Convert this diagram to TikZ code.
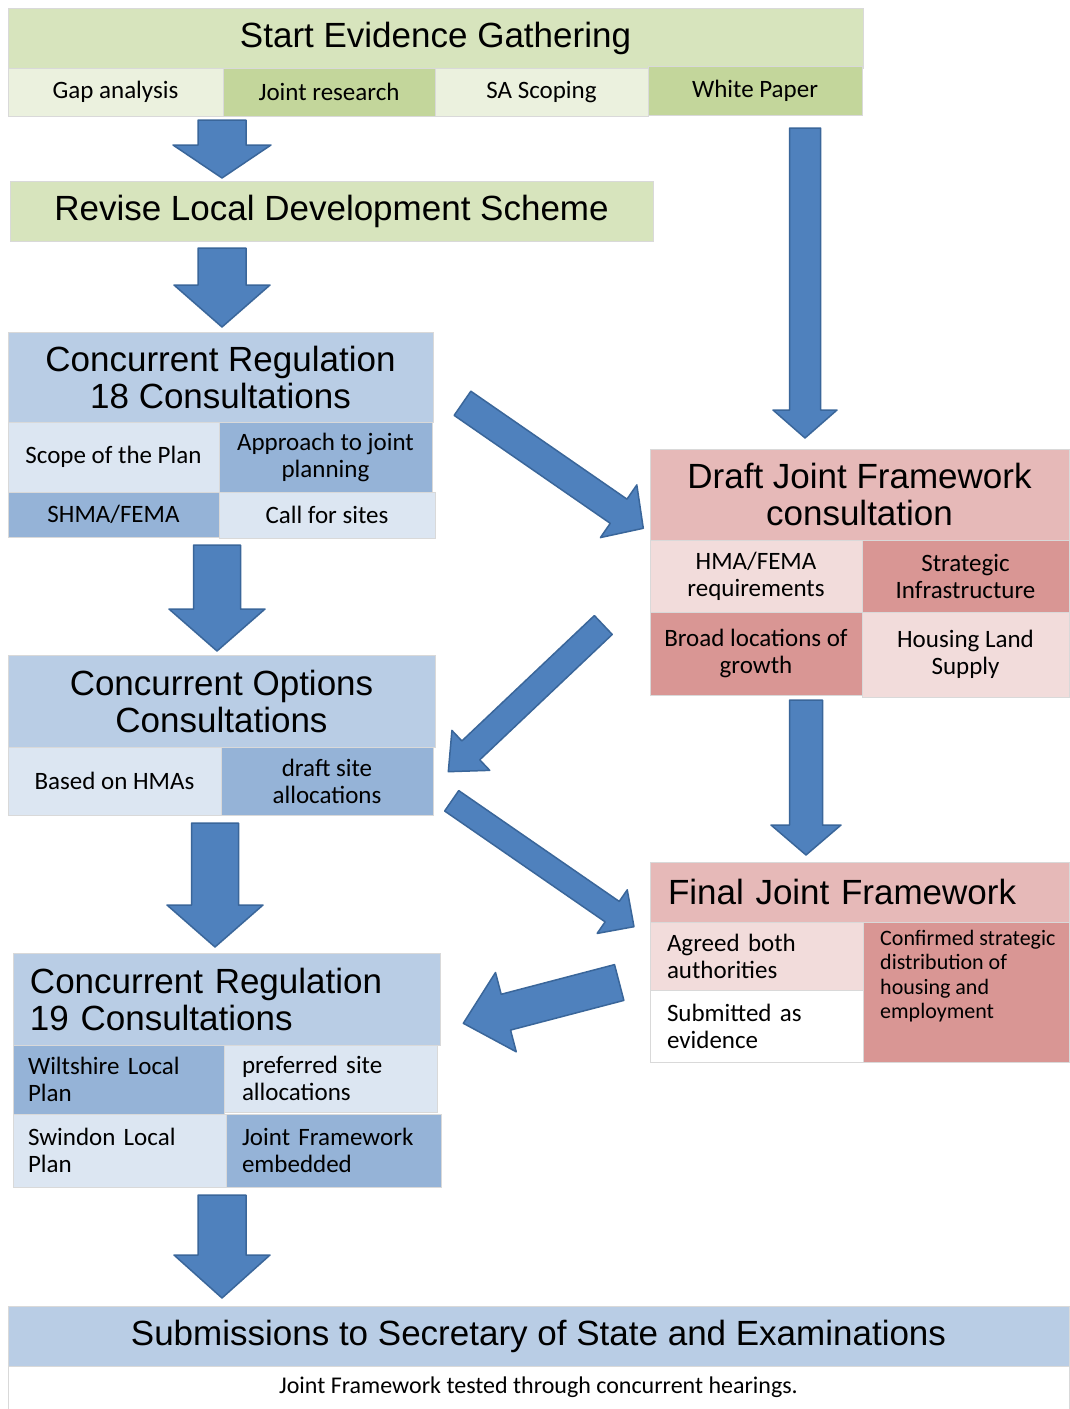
\documentclass[tikz,border=0pt]{standalone}
\usepackage{fontspec}
\setmainfont{Liberation Sans}
\newfontfamily\cellfont{Carlito}
\usetikzlibrary{calc}
\definecolor{gH}{HTML}{D7E4BD}
\definecolor{gL}{HTML}{EBF1DE}
\definecolor{gM}{HTML}{C3D69B}
\definecolor{bH}{HTML}{B9CDE5}
\definecolor{bL}{HTML}{DCE6F2}
\definecolor{bM}{HTML}{95B3D7}
\definecolor{rH}{HTML}{E6B9B8}
\definecolor{rL}{HTML}{F2DCDB}
\definecolor{rM}{HTML}{D99694}
\definecolor{arrF}{HTML}{4F81BD}
\definecolor{arrD}{HTML}{3A669A}
\definecolor{edgeC}{HTML}{D9D9D9}
\tikzset{
  boxbase/.style={draw=edgeC, line width=1pt, inner sep=0pt, outer sep=0pt},
  hdr/.style={boxbase, font=\fontsize{35}{37}\selectfont, align=center},
  cel/.style={boxbase, font=\cellfont\fontsize{25}{27}\selectfont, align=center},
  conftext/.style={inner sep=0pt, font=\cellfont\fontsize{22}{24.3}\selectfont, align=left},
  notefont/.style={font=\cellfont\fontsize{24}{26}\selectfont},
  barrow/.style={fill=arrF, draw=arrD, line width=1.5pt, line join=round}
}
\newcommand\mkbox[7]{%
  \pgfmathsetmacro\MKw{#5-#3}\pgfmathsetmacro\MKh{#6-#4}%
  \pgfmathsetmacro\MKx{(#3+#5)/2}\pgfmathsetmacro\MKy{(#4+#6)/2}%
  \node[#2, minimum width=\MKw pt, minimum height=\MKh pt] (#1) at (\MKx,\MKy) {#7};}
\newcommand\mkboxL[8]{%
  \pgfmathsetmacro\MKw{#5-#3}\pgfmathsetmacro\MKh{#6-#4}%
  \pgfmathsetmacro\MKt{#5-#3-2*#8}%
  \pgfmathsetmacro\MKx{(#3+#5)/2}\pgfmathsetmacro\MKy{(#4+#6)/2}%
  \node[#2, align=left, inner xsep=#8pt, text width=\MKt pt, minimum width=\MKw pt, minimum height=\MKh pt] (#1) at (\MKx,\MKy) {#7};}
% block arrow: from, to, shaft half width, head half width, head length
\newcommand\blockarrow[5]{%
  \path let \p1=(#1), \p2=(#2), \n1={atan2(\y2-\y1,\x2-\x1)}, \n2={veclen(\x2-\x1,\y2-\y1)} in
    \pgfextra{\xdef\BAang{\n1}\xdef\BAlen{\n2}\xdef\BAx{\x1}\xdef\BAy{\y1}};
  \begin{scope}[shift={(\BAx,\BAy)}, rotate=\BAang]
    \filldraw[barrow] (0pt,-#3pt) -- ({\BAlen-#5pt},-#3pt) -- ({\BAlen-#5pt},-#4pt)
      -- (\BAlen,0pt) -- ({\BAlen-#5pt},#4pt) -- ({\BAlen-#5pt},#3pt) -- (0pt,#3pt) -- cycle;
  \end{scope}}
\begin{document}
\begin{tikzpicture}[x=1pt,y=-1pt]
\useasboundingbox (0,0) rectangle (1069,1409);
\fill[white] (0,0) rectangle (1069,1409);

% Evidence gathering
\mkbox{seg}{hdr, fill=gH}{8}{8}{863}{68}{Start Evidence Gathering}
\mkbox{gap}{cel, fill=gL}{8}{68}{223}{116}{Gap analysis}
\mkbox{jres}{cel, fill=gM}{223}{68}{435}{116}{Joint research}
\mkbox{sas}{cel, fill=gL}{435}{68}{648}{116}{SA Scoping}
\mkbox{wp}{cel, fill=gM}{648}{66}{862}{115}{White Paper}
\mkbox{rlds}{hdr, fill=gH}{10}{181}{653}{241}{Revise Local Development Scheme}

% Regulation 18
\mkbox{r18}{hdr, fill=bH}{8}{332}{433}{422}{Concurrent Regulation\\18 Consultations}
\mkbox{scope}{cel, fill=bL}{8}{422}{219}{492}{Scope of the Plan}
\mkbox{appr}{cel, fill=bM}{219}{422}{432}{492}{Approach to joint\\planning}
\mkbox{shma}{cel, fill=bM}{8}{492}{219}{537}{SHMA/FEMA}
\mkbox{call}{cel, fill=bL}{219}{492}{435}{538}{Call for sites}

% Draft Joint Framework
\mkbox{djf}{hdr, fill=rH}{650}{449}{1069}{540}{Draft Joint Framework\\consultation}
\mkbox{hma}{cel, fill=rL}{650}{540}{862}{612}{HMA/FEMA\\requirements}
\mkbox{strat}{cel, fill=rM}{862}{540}{1069}{612}{Strategic\\Infrastructure}
\mkbox{broad}{cel, fill=rM}{650}{612}{862}{695}{Broad locations of\\growth}
\mkbox{hls}{cel, fill=rL}{862}{612}{1069}{697}{Housing Land\\Supply}

% Options
\mkbox{opt}{hdr, fill=bH}{8}{655}{435}{747}{Concurrent Options\\Consultations}
\mkbox{based}{cel, fill=bL}{8}{747}{221}{815}{Based on HMAs}
\mkbox{dsa}{cel, fill=bM}{221}{747}{433}{815}{draft site\\allocations}

% Final Joint Framework
\mkboxL{fjf}{hdr, fill=rH}{650}{862}{1069}{922}{Final Joint Framework}{18}
\mkboxL{agr}{cel, fill=rL}{650}{922}{863}{990}{Agreed both\\authorities}{17}
\mkboxL{subm}{cel, fill=white}{650}{990}{863}{1062}{Submitted as\\evidence}{17}
\mkbox{conf}{cel, fill=rM}{863}{922}{1069}{1062}{}
\node[conftext, anchor=north west] (conft) at (880,930) {Confirmed strategic\\distribution of\\housing and\\employment};

% Regulation 19
\mkboxL{r19}{hdr, fill=bH}{13}{953}{440}{1045}{Concurrent Regulation\\19 Consultations}{17}
\mkboxL{wilt}{cel, fill=bM}{13}{1045}{224}{1114}{Wiltshire Local\\Plan}{15}
\mkboxL{pref}{cel, fill=bL}{224}{1045}{437}{1112}{preferred site\\allocations}{18}
\mkboxL{swin}{cel, fill=bL}{13}{1114}{226}{1187}{Swindon Local\\Plan}{15}
\mkboxL{jfe}{cel, fill=bM}{226}{1114}{441}{1187}{Joint Framework\\embedded}{16}

% Submissions
\mkbox{subs}{hdr, fill=bH}{8}{1306}{1069}{1366}{Submissions to Secretary of State and Examinations}
\mkbox{note}{boxbase, notefont, fill=white}{8}{1366}{1069}{1409}{Joint Framework tested through concurrent hearings.}

% arrow end points
\coordinate (a1s) at (222,120);   \coordinate (a1e) at (222,178);
\coordinate (a2s) at (222,248);   \coordinate (a2e) at (222,327);
\coordinate (a3s) at (217,545);   \coordinate (a3e) at (217,651);
\coordinate (a4s) at (215,823);   \coordinate (a4e) at (215,947);
\coordinate (a5s) at (222,1195);  \coordinate (a5e) at (222,1298);
\coordinate (als) at (805,128);   \coordinate (ale) at (805,438);
\coordinate (ajs) at (806,700);   \coordinate (aje) at (806,855);
\coordinate (d1s) at (462.5,403.3); \coordinate (d1e) at (643.3,528.3);
\coordinate (d2s) at (603.3,625);   \coordinate (d2e) at (448.3,771.7);
\coordinate (d3s) at (451.7,800.8); \coordinate (d3e) at (634,926.7);
\coordinate (d4s) at (619.2,982.5); \coordinate (d4e) at (463.3,1023.3);

\blockarrow{a1s}{a1e}{24}{49}{33}
\blockarrow{a2s}{a2e}{24}{48}{42}
\blockarrow{a3s}{a3e}{23.5}{48}{42}
\blockarrow{a4s}{a4e}{23.5}{48}{42}
\blockarrow{a5s}{a5e}{24}{48}{43}
\blockarrow{als}{ale}{15.5}{32}{28}
\blockarrow{ajs}{aje}{16.5}{35}{30}
\blockarrow{d1s}{d1e}{14.7}{32}{30}
\blockarrow{d2s}{d2e}{13}{27.5}{31}
\blockarrow{d3s}{d3e}{12.4}{26.5}{26.5}
\blockarrow{d4s}{d4e}{18.5}{41}{44}
\end{tikzpicture}
\end{document}
